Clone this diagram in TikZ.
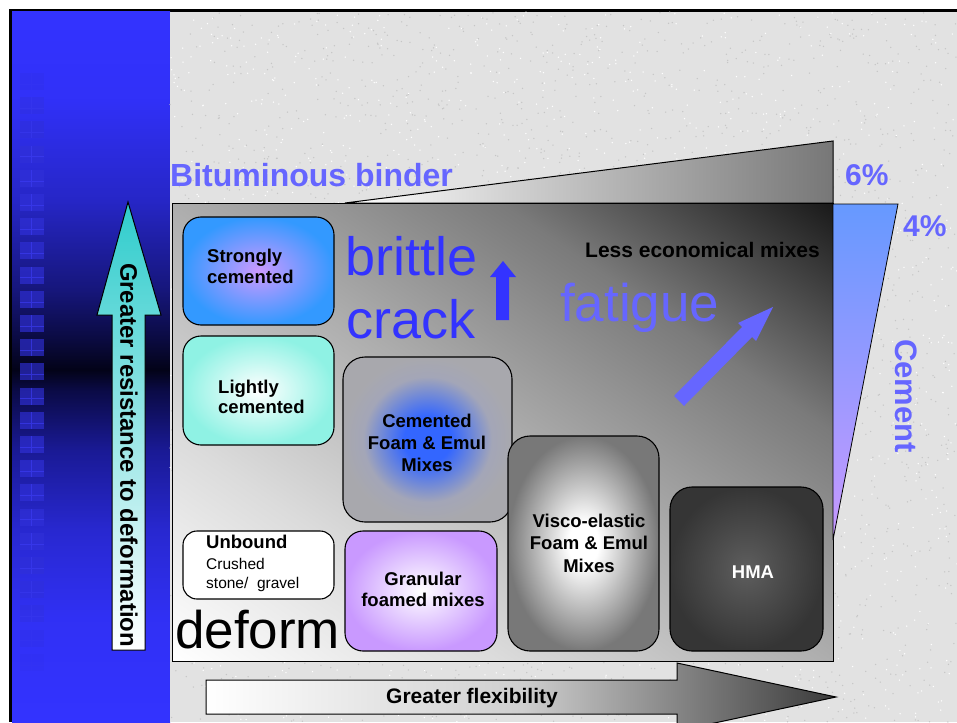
\documentclass[tikz,border=0pt]{standalone}
\usepackage{fontspec}
\setmainfont{Liberation Sans}
\definecolor{bitblue}{HTML}{6666FF}
\definecolor{deepblue}{HTML}{3333FF}
\definecolor{bgspeck}{HTML}{E2E2E2}
\definecolor{speckdark}{HTML}{C6C6C6}
\definecolor{wedgegray}{HTML}{777777}
\definecolor{cemtop}{HTML}{6699FF}
\definecolor{cembot}{HTML}{C899FF}
\definecolor{strongin}{HTML}{CC99FF}
\definecolor{strongout}{HTML}{3399FF}
\definecolor{aqua}{HTML}{8FF2E4}
\definecolor{violettwo}{HTML}{C999FF}
\definecolor{hmain}{HTML}{5E5E5E}
\definecolor{hmaout}{HTML}{353535}
\definecolor{tealtwo}{HTML}{2ECCCC}
\definecolor{flexmid}{HTML}{CFCFCF}
\definecolor{flexend}{HTML}{3A3A3A}
\definecolor{sqblue}{HTML}{3030D8}
\definecolor{sqline}{HTML}{3C3CF4}
\pgfdeclareverticalshading{bluepanel}{100bp}{rgb(0bp)=(0.2,0.2,1); rgb(25bp)=(0.2,0.2,1); rgb(32.2bp)=(0.19,0.19,0.96); rgb(38.5bp)=(0.157,0.157,0.816); rgb(44.2bp)=(0.10,0.10,0.58); rgb(48.4bp)=(0.04,0.04,0.27); rgb(49.8bp)=(0.012,0.012,0.094); rgb(51.9bp)=(0.04,0.04,0.25); rgb(55.4bp)=(0.086,0.086,0.48); rgb(61.8bp)=(0.15,0.15,0.78); rgb(68.8bp)=(0.19,0.19,0.97); rgb(75bp)=(0.2,0.2,1); rgb(100bp)=(0.2,0.2,1)}
\pgfdeclareverticalshading{mainfield}{100bp}{rgb(0bp)=(1,1,1); rgb(25bp)=(1,1,1); rgb(37.5bp)=(0.86,0.86,0.86); rgb(50bp)=(0.68,0.68,0.68); rgb(62.5bp)=(0.48,0.48,0.48); rgb(75bp)=(0.1,0.1,0.1); rgb(100bp)=(0.1,0.1,0.1)}
\pgfdeclareradialshading{foamcore}{\pgfpoint{0bp}{0bp}}{rgb(0bp)=(0.2,0.4,1); rgb(7bp)=(0.2,0.4,1); rgb(19bp)=(0.64,0.65,0.72); rgb(25bp)=(0.66,0.66,0.68); rgb(50bp)=(0.66,0.66,0.68)}
\pgfdeclareradialshading{viscocore}{\pgfpoint{0bp}{0bp}}{rgb(0bp)=(1,1,1); rgb(5bp)=(1,1,1); rgb(25bp)=(0.47,0.47,0.47); rgb(50bp)=(0.47,0.47,0.47)}
\tikzset{
  mixbox/.style={draw=black, line width=1.1pt, rounded corners=18pt, inner sep=0pt, outer sep=0pt},
  boxtext/.style={font=\fontsize{18.5}{22}\selectfont\bfseries, inner sep=0pt},
  smalltext/.style={font=\fontsize{15.5}{19}\selectfont, inner sep=0pt},
  bigword/.style={font=\fontsize{54}{60}\selectfont, inner sep=0pt},
  headtext/.style={font=\fontsize{32}{36}\selectfont\bfseries, text=bitblue, inner sep=0pt},
  outline/.style={draw=black, line width=1pt}
}
\begin{document}
\begin{tikzpicture}[x=1pt,y=-1pt]
\useasboundingbox (0,0) rectangle (957,722);
\clip (0,0) rectangle (957,722);
\fill[white] (0,0) rectangle (957,722);
\fill[black] (9,9) rectangle (957,722);
\shade[shading=bluepanel] (12,12) rectangle (170,722);
\fill[bgspeck] (170,12) rectangle (957,722);
\pgfmathsetseed{7}
\foreach \i in {1,...,2600}{\fill[speckdark] ({170+787*rnd},{12+710*rnd}) circle (0.75);}
\foreach \i in {1,...,1600}{\fill[white] ({170+787*rnd},{12+710*rnd}) circle (0.75);}
% squares on the blue panel
\foreach \k in {0,...,24}{
  \pgfmathsetmacro\yy{73+24.2*\k}
  \pgfmathsetmacro\op{min(0.65,0.2+0.15*\k,0.1+0.12*(24-\k))}
  \fill[sqblue, opacity=\op] (20,\yy) rectangle (44,\yy+17);
  \draw[sqline, opacity=\op, line width=0.6pt] (31,\yy) -- (31,\yy+17) (20,\yy+11) -- (44,\yy+11);
}
% bituminous wedge
\draw[outline, left color=white, right color=wedgegray] (345,203) -- (833,141) -- (833,203) -- cycle;
% main field
\begin{scope}
  \clip (172,203) rectangle (833,661);
  \shade[shading=mainfield, shading angle=-34.7] (126.5,56) rectangle (878.5,808);
\end{scope}
\draw[line width=0.8pt] (172,203) rectangle (833,661);
% cement wedge
\draw[line width=0.8pt, top color=cemtop, bottom color=cembot] (833,204) -- (898,204) -- (833,540) -- cycle;
% arrows
\fill[deepblue] (503,261) -- (516,277) -- (509,277) -- (509,320) -- (496,320) -- (496,277) -- (490,277) -- cycle;
\fill[bitblue] (674,396) -- (742,327) -- (738,323) -- (773,307) -- (756,341) -- (752,337) -- (684,406) -- cycle;
\draw[outline, top color=tealtwo, bottom color=white] (128,202) -- (161,315) -- (145,315) -- (145,650) -- (112,650) -- (112,315) -- (97,315) -- cycle;
\draw[outline, left color=white, right color=flexend, middle color=flexmid] (206,680) -- (677,680) -- (677,663) -- (836,697) -- (677,731) -- (677,714) -- (206,714) -- cycle;
% boxes
\node[mixbox, minimum width=151pt, minimum height=108pt, inner color=strongin, outer color=strongout] (strong) at (258.5,271) {};
\node[mixbox, minimum width=151pt, minimum height=109pt, inner color=white, outer color=aqua] (light) at (258.5,390.5) {};
\node[mixbox, rounded corners=14pt, minimum width=151pt, minimum height=68pt, fill=white] (unbound) at (258.5,565) {};
\node[mixbox, rounded corners=22pt, minimum width=169pt, minimum height=165pt, shading=foamcore] (cemfoam) at (427.5,439.5) {};
\node[mixbox, minimum width=152pt, minimum height=120pt, inner color=white, outer color=violettwo] (granular) at (421,591) {};
\node[mixbox, rounded corners=22pt, minimum width=151pt, minimum height=215pt, shading=viscocore] (visco) at (583.5,543.5) {};
\node[mixbox, rounded corners=22pt, minimum width=153pt, minimum height=164pt, inner color=hmain, outer color=hmaout] (hma) at (746.5,569) {};
% texts
\node[headtext, anchor=base west] (bit) at (170,186) {Bituminous binder};
\node[headtext, font=\fontsize{30}{36}\selectfont\bfseries, anchor=base west] (six) at (845,185) {6\%};
\node[headtext, font=\fontsize{30}{36}\selectfont\bfseries, anchor=base west] (four) at (903,236) {4\%};
\node[headtext, font=\fontsize{31}{36}\selectfont\bfseries, rotate=-90] (cement) at (906,396) {Cement};
\node[font=\fontsize{21}{25}\selectfont\bfseries, inner sep=0pt, anchor=base east] (less) at (820,257) {Less economical mixes};
\node[bigword, text=deepblue, anchor=base west] (brittle) at (345,275) {brittle};
\node[bigword, text=deepblue, anchor=base west] (crack) at (346,338) {crack};
\node[bigword, font=\fontsize{53}{60}\selectfont, text=bitblue, anchor=base west] (fatigue) at (560,321) {fatigue};
\node[bigword, font=\fontsize{53}{60}\selectfont, text=black, anchor=base west] (deform) at (175,648) {deform};
\node[boxtext, anchor=base west] (t1a) at (207,262) {Strongly};
\node[boxtext, anchor=base west] (t1b) at (207,283) {cemented};
\node[boxtext, anchor=base west] (t2a) at (218,393) {Lightly};
\node[boxtext, anchor=base west] (t2b) at (218,413) {cemented};
\node[boxtext, anchor=base west] (t3a) at (206,548) {Unbound};
\node[smalltext, anchor=base west] (t3b) at (206,569) {Crushed};
\node[smalltext, anchor=base west] (t3c) at (206,588) {stone/\ \ gravel};
\node[boxtext, anchor=base] (t4a) at (427,427) {Cemented};
\node[boxtext, anchor=base] (t4b) at (427,449) {Foam \& Emul};
\node[boxtext, anchor=base] (t4c) at (427,471) {Mixes};
\node[boxtext, anchor=base] (t5a) at (423,585) {Granular};
\node[boxtext, anchor=base] (t5b) at (423,606) {foamed mixes};
\node[boxtext, anchor=base] (t6a) at (589,527) {Visco-elastic};
\node[boxtext, anchor=base] (t6b) at (589,549) {Foam \& Emul};
\node[boxtext, anchor=base] (t6c) at (589,572) {Mixes};
\node[boxtext, text=white, anchor=base] (t7) at (753,578) {HMA};
\node[font=\fontsize{23.9}{28}\selectfont\bfseries, inner sep=0pt, rotate=-90] (resist) at (129,455) {Greater resistance to deformation};
\node[font=\fontsize{21}{25}\selectfont\bfseries, inner sep=0pt, anchor=base] (flex) at (472,703) {Greater flexibility};
\end{tikzpicture}
\end{document}
